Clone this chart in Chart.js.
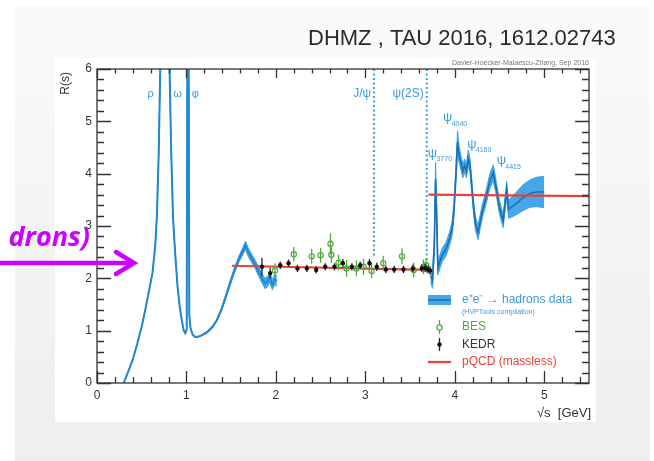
<!DOCTYPE html>
<html>
<head>
<meta charset="utf-8">
<script src="https://cdn.jsdelivr.net/npm/chart.js@4"></script>
<style>
html,body{margin:0;padding:0;background:#fff;}
canvas{display:block;}
</style>
</head>
<body>
<canvas id="c" width="654" height="461"></canvas>
<script>
// R(s) = sigma(e+e- -> hadrons) / sigma(e+e- -> mu+mu-)
// Light-quark region: threshold, rho/omega, phi, up to 2 GeV
const lowE = [0.298, 0.35, 0.40, 0.45, 0.50, 0.54, 0.58, 0.62, 0.65, 0.67, 0.69, 0.707, 0.73, 0.76, 0.778, 0.784, 0.79, 0.80, 0.811,
  0.83, 0.85, 0.875, 0.90, 0.925, 0.95, 0.97, 0.987, 1.003, 1.010, 1.017, 1.024, 1.032, 1.045, 1.07, 1.10, 1.12, 1.17, 1.23,
  1.29, 1.34, 1.39, 1.44, 1.49, 1.54, 1.59, 1.63, 1.66, 1.69, 1.73, 1.77, 1.81, 1.85, 1.88, 1.91, 1.93, 1.96, 1.99, 2.01];
const lowR = [0.0, 0.22, 0.45, 0.75, 1.08, 1.4, 1.75, 2.1, 2.6, 3.2, 4.4, 6.0, 8.3, 9.6, 9.8, 14.0, 8.5, 6.8, 6.0,
  4.4, 3.15, 2.45, 1.85, 1.45, 1.18, 1.0, 0.95, 1.02, 6.5, 40.0, 6.5, 1.3, 1.05, 0.92, 0.88, 0.88, 0.91, 0.97,
  1.07, 1.2, 1.4, 1.65, 1.92, 2.17, 2.38, 2.52, 2.63, 2.5, 2.38, 2.26, 2.12, 1.98, 1.9, 1.95, 2.02, 1.88, 1.98, 1.95];
const lowErr = [0.01, 0.01, 0.01, 0.01, 0.01, 0.01, 0.01, 0.01, 0.01, 0.01, 0.02, 0.02, 0.03, 0.03, 0.03, 0.05, 0.03, 0.03, 0.02,
  0.02, 0.02, 0.01, 0.01, 0.01, 0.01, 0.01, 0.01, 0.01, 0.05, 0.1, 0.05, 0.02, 0.01, 0.01, 0.01, 0.01, 0.01, 0.02,
  0.02, 0.02, 0.03, 0.04, 0.05, 0.05, 0.06, 0.07, 0.08, 0.08, 0.08, 0.08, 0.09, 0.09, 0.1, 0.1, 0.1, 0.1, 0.1, 0.1];

// Charm region above the psi(2S)
const highE = [3.73, 3.75, 3.77, 3.785, 3.80, 3.81, 3.83, 3.86, 3.90, 3.94, 3.97, 3.99, 4.01, 4.03, 4.05, 4.07, 4.09, 4.11,
  4.13, 4.15, 4.17, 4.19, 4.21, 4.23, 4.26, 4.28, 4.31, 4.35, 4.39, 4.43, 4.46, 4.50, 4.54, 4.58, 4.60, 4.65, 4.70,
  4.77, 4.84, 4.91, 5.0];
const highR = [2.05, 1.95, 2.6, 3.9, 3.0, 2.2, 2.3, 2.45, 2.55, 2.75, 2.95, 3.3, 3.9, 4.6, 4.35, 4.2, 4.05, 4.15,
  4.05, 4.3, 4.15, 3.75, 3.35, 3.05, 2.88, 3.05, 3.3, 3.55, 3.85, 4.02, 3.75, 3.35, 3.1, 3.7, 3.32, 3.38, 3.45,
  3.55, 3.62, 3.65, 3.65];
const highErr = [0.12, 0.14, 0.18, 0.32, 0.22, 0.14, 0.13, 0.13, 0.13, 0.13, 0.13, 0.14, 0.15, 0.22, 0.15, 0.13, 0.13, 0.13,
  0.13, 0.15, 0.13, 0.13, 0.13, 0.13, 0.14, 0.13, 0.13, 0.13, 0.14, 0.15, 0.13, 0.13, 0.13, 0.15, 0.17, 0.2, 0.22,
  0.25, 0.26, 0.28, 0.3];

// BES inclusive measurements
const besE = [1.99, 2.20, 2.40, 2.50, 2.61, 2.62, 2.70, 2.79, 2.90, 2.98, 3.07, 3.20, 3.41, 3.54, 3.65, 3.68];
const besR = [2.15, 2.46, 2.42, 2.44, 2.66, 2.45, 2.30, 2.19, 2.19, 2.22, 2.14, 2.29, 2.42, 2.16, 2.22, 2.25];
const besErr = [0.14, 0.14, 0.14, 0.14, 0.2, 0.15, 0.15, 0.16, 0.15, 0.15, 0.14, 0.14, 0.15, 0.14, 0.14, 0.14];

// KEDR inclusive measurements
const kedrE = [1.844, 1.936, 2.048, 2.141, 2.241, 2.346, 2.45, 2.551, 2.655, 2.749, 2.849, 2.942, 3.046, 3.128,
  3.229, 3.322, 3.426, 3.531, 3.631, 3.668, 3.70, 3.724];
const kedrR = [2.22, 2.10, 2.25, 2.29, 2.19, 2.19, 2.16, 2.22, 2.22, 2.29, 2.22, 2.25, 2.29, 2.22,
  2.17, 2.17, 2.17, 2.19, 2.19, 2.20, 2.17, 2.15];
const kedrErr = [0.17, 0.10, 0.07, 0.07, 0.07, 0.07, 0.07, 0.07, 0.07, 0.08, 0.07, 0.07, 0.08, 0.08,
  0.07, 0.07, 0.07, 0.07, 0.07, 0.08, 0.08, 0.08];

// Massless pQCD prediction (uds below charm threshold, udsc above)
const pqcdE = [1.508, 3.705, null, 3.705, 5.5];
const pqcdR = [2.24, 2.16, null, 3.60, 3.57];

// Narrow charmonium states shown as dotted markers
const narrowNames = ['J/ψ', 'ψ(2S)'];
const narrowMass = [3.097, 3.686];
const narrowLow = [2.42, 2.3];

// Axis ticks
const xTickValues = [0, 1, 2, 3, 4, 5];
const yTickValues = [0, 1, 2, 3, 4, 5, 6];

const BLUE_LINE = '#1a70b5';
const BLUE_BAND = 'rgba(52,160,230,0.92)';
const BLUE_TEXT = '#3a9bdc';
const GREEN = '#52aa3f';
const RED = '#e8423a';
const FONT = '"Liberation Sans", Arial, sans-serif';

const pts = (xs, ys) => xs.map((x, i) => ({ x: x, y: ys[i] }));
const shifted = (xs, ys, es, s) => xs.map((x, i) => ({ x: x, y: ys[i] + s * es[i] }));
function errorSegments(xs, ys, es) {
  const out = [];
  xs.forEach((x, i) => {
    out.push({ x: x, y: ys[i] - es[i] }, { x: x, y: ys[i] + es[i] }, { x: x, y: null });
  });
  return out;
}

const lineBase = { pointRadius: 0, tension: 0, fill: false, spanGaps: false };

const datasets = [
  // 0,1: low band
  Object.assign({}, lineBase, { label: 'lowUp', data: shifted(lowE, lowR, lowErr, 1), borderColor: BLUE_BAND, borderWidth: 1, order: 9 }),
  Object.assign({}, lineBase, { label: 'lowDn', data: shifted(lowE, lowR, lowErr, -1), borderColor: BLUE_BAND, borderWidth: 1, backgroundColor: BLUE_BAND, fill: '-1', order: 9 }),
  // 2,3: high band
  Object.assign({}, lineBase, { label: 'highUp', data: shifted(highE, highR, highErr, 1), borderColor: BLUE_BAND, borderWidth: 1, order: 9 }),
  Object.assign({}, lineBase, { label: 'highDn', data: shifted(highE, highR, highErr, -1), borderColor: BLUE_BAND, borderWidth: 1, backgroundColor: BLUE_BAND, fill: '-1', order: 9 }),
  // central values
  Object.assign({}, lineBase, { label: 'low', data: pts(lowE, lowR), borderColor: '#2488cf', borderWidth: 2, order: 8 }),
  Object.assign({}, lineBase, { label: 'high', data: pts(highE, highR), borderColor: BLUE_LINE, borderWidth: 1.6, order: 8 }),
  // narrow resonance markers
  ...narrowMass.map((m, i) => Object.assign({}, lineBase, {
    label: narrowNames[i], data: [{ x: m, y: 6 }, { x: m, y: narrowLow[i] }],
    borderColor: '#3d9fe2', borderWidth: 2, borderDash: [2, 2.5], order: 7
  })),
  // pQCD
  Object.assign({}, lineBase, { label: 'pQCD', data: pts(pqcdE, pqcdR), borderColor: RED, borderWidth: 2.2, order: 5 }),
  // BES
  Object.assign({}, lineBase, { label: 'besErr', data: errorSegments(besE, besR, besErr), borderColor: GREEN, borderWidth: 1.3, order: 4 }),
  { type: 'scatter', label: 'BES', data: pts(besE, besR), pointRadius: 2.6, pointBorderWidth: 1.2,
    pointBackgroundColor: 'rgba(255,255,255,0)', pointBorderColor: GREEN, showLine: false, order: 3 },
  // KEDR
  Object.assign({}, lineBase, { label: 'kedrErr', data: errorSegments(kedrE, kedrR, kedrErr), borderColor: '#222', borderWidth: 1.3, order: 2 }),
  { type: 'scatter', label: 'KEDR', data: pts(kedrE, kedrR), pointRadius: 2.2, pointBorderWidth: 0,
    pointBackgroundColor: '#111', showLine: false, order: 1 }
];

// Slide background and white figure panel
const pagePlugin = {
  id: 'page',
  beforeDraw(chart) {
    const ctx = chart.ctx;
    ctx.save();
    ctx.fillStyle = '#ffffff';
    ctx.fillRect(0, 0, 654, 461);
    const g = ctx.createLinearGradient(0, 6, 0, 461);
    g.addColorStop(0, '#fafafa');
    g.addColorStop(1, '#eeeeee');
    ctx.fillStyle = g;
    ctx.fillRect(15, 6, 635, 455);
    ctx.fillStyle = '#ffffff';
    ctx.fillRect(55, 58, 541, 364);
    // title
    ctx.fillStyle = '#2a2a2a';
    ctx.font = '22px ' + FONT;
    ctx.textBaseline = 'alphabetic';
    ctx.textAlign = 'left';
    ctx.fillText('DHMZ , TAU 2016, 1612.02743', 308, 45);
    ctx.restore();
  }
};

// Frame with inward ticks on all four sides, axis titles, labels, legend
const framePlugin = {
  id: 'frame',
  afterDraw(chart) {
    const ctx = chart.ctx;
    const a = chart.chartArea;
    const xs = chart.scales.x, ys = chart.scales.y;
    ctx.save();
    ctx.strokeStyle = '#333';
    ctx.lineWidth = 1.3;
    ctx.strokeRect(a.left, a.top, a.right - a.left, a.bottom - a.top);
    ctx.beginPath();
    for (let i = 0; i <= 27; i++) {
      const v = i * 0.2;
      const px = Math.round(xs.getPixelForValue(v)) + 0.5;
      const major = Math.abs(v - Math.round(v)) < 1e-6;
      ctx.moveTo(px, a.bottom); ctx.lineTo(px, a.bottom - (major ? 12 : 6));
      ctx.moveTo(px, a.top); ctx.lineTo(px, a.top + (major ? 9 : 4.5));
    }
    for (let i = 0; i <= 30; i++) {
      const v = i * 0.2;
      const py = Math.round(ys.getPixelForValue(v)) + 0.5;
      const major = Math.abs(v - Math.round(v)) < 1e-6;
      ctx.moveTo(a.left, py); ctx.lineTo(a.left + (major ? 14 : 7), py);
      ctx.moveTo(a.right, py); ctx.lineTo(a.right - (major ? 14 : 7), py);
    }
    ctx.stroke();

    // axis titles
    ctx.fillStyle = '#333';
    ctx.font = '13px ' + FONT;
    ctx.textAlign = 'right';
    ctx.textBaseline = 'middle';
    ctx.fillText('√s  [GeV]', a.right + 2, 413);
    ctx.save();
    ctx.translate(66, a.top + 3);
    ctx.rotate(-Math.PI / 2);
    ctx.textAlign = 'right';
    ctx.font = '12px ' + FONT;
    ctx.fillText('R(s)', 0, 0);
    ctx.restore();

    // credit line
    ctx.fillStyle = '#777';
    ctx.font = '7px ' + FONT;
    ctx.textAlign = 'right';
    ctx.textBaseline = 'alphabetic';
    ctx.fillText('Davier-Hoecker-Malaescu-Zhang, Sep 2016', a.right, 65);

    // resonance labels
    ctx.fillStyle = BLUE_TEXT;
    ctx.textBaseline = 'middle';
    ctx.textAlign = 'center';
    ctx.font = '11px ' + FONT;
    const ly = ys.getPixelForValue(5.53);
    ctx.fillText('ρ', xs.getPixelForValue(0.6), ly);
    ctx.fillText('ω', xs.getPixelForValue(0.9), ly);
    ctx.fillText('φ', xs.getPixelForValue(1.1), ly);
    ctx.textAlign = 'right';
    ctx.font = '12px ' + FONT;
    narrowMass.forEach((m, i) => ctx.fillText(narrowNames[i], xs.getPixelForValue(m) - 3, ly));

    const psiLabels = [['3770', 3.75, 4.39], ['4040', 3.92, 5.07], ['4160', 4.19, 4.56], ['4415', 4.52, 4.25]];
    psiLabels.forEach(([sub, e, r]) => {
      const px = xs.getPixelForValue(e), py = ys.getPixelForValue(r);
      ctx.textAlign = 'center';
      ctx.font = '13px ' + FONT;
      ctx.fillText('ψ', px, py);
      ctx.textAlign = 'left';
      ctx.font = '7px ' + FONT;
      ctx.fillText(sub, px + 4, py + 6);
    });

    // legend
    ctx.fillStyle = BLUE_BAND;
    ctx.fillRect(428, 295, 23, 10);
    ctx.strokeStyle = BLUE_LINE;
    ctx.lineWidth = 1.5;
    ctx.beginPath(); ctx.moveTo(428, 300); ctx.lineTo(451, 300); ctx.stroke();
    ctx.textAlign = 'left';
    ctx.textBaseline = 'middle';
    ctx.font = '12px ' + FONT;
    ctx.fillStyle = BLUE_TEXT;
    ctx.fillText('e⁺e⁻ → hadrons data', 462, 300);
    ctx.font = '7px ' + FONT;
    ctx.fillText('(HVPTools compilation)', 462, 312);

    ctx.strokeStyle = GREEN; ctx.lineWidth = 1.3;
    ctx.beginPath(); ctx.moveTo(439.5, 320); ctx.lineTo(439.5, 334); ctx.stroke();
    ctx.fillStyle = '#fff';
    ctx.beginPath(); ctx.arc(439.5, 327.5, 2.6, 0, Math.PI * 2); ctx.fill(); ctx.stroke();
    ctx.fillStyle = GREEN;
    ctx.font = '12px ' + FONT;
    ctx.fillText('BES', 462, 327);

    ctx.strokeStyle = '#222';
    ctx.beginPath(); ctx.moveTo(439.5, 338); ctx.lineTo(439.5, 351); ctx.stroke();
    ctx.fillStyle = '#111';
    ctx.beginPath(); ctx.arc(439.5, 344.5, 2.2, 0, Math.PI * 2); ctx.fill();
    ctx.fillStyle = '#333';
    ctx.fillText('KEDR', 462, 345);

    ctx.strokeStyle = RED; ctx.lineWidth = 2.2;
    ctx.beginPath(); ctx.moveTo(428, 362); ctx.lineTo(451, 362); ctx.stroke();
    ctx.fillStyle = RED;
    ctx.fillText('pQCD (massless)', 462, 362);

    // slide annotation: arrow pointing at the low-energy R
    ctx.fillStyle = '#cc00ff';
    ctx.strokeStyle = '#cc00ff';
    ctx.font = 'italic bold 27px "Open Sans", "DejaVu Sans", sans-serif';
    ctx.textAlign = 'right';
    ctx.textBaseline = 'alphabetic';
    ctx.fillText('drons)', 90, 246);
    ctx.lineWidth = 4.5;
    ctx.lineCap = 'round';
    ctx.beginPath(); ctx.moveTo(-5, 263); ctx.lineTo(133, 263); ctx.stroke();
    ctx.beginPath(); ctx.moveTo(116, 252); ctx.lineTo(134, 263); ctx.lineTo(116, 274); ctx.stroke();
    ctx.restore();
  }
};

const tickFont = { family: FONT, size: 12 };

new Chart(document.getElementById('c'), {
  type: 'line',
  data: { datasets: datasets },
  options: {
    responsive: false,
    animation: false,
    devicePixelRatio: 1,
    layout: { padding: { left: 57, right: 65, top: 69, bottom: 53 } },
    plugins: { legend: { display: false }, tooltip: { enabled: false } },
    scales: {
      x: {
        type: 'linear', min: 0, max: 5.5,
        afterBuildTicks: s => { s.ticks = xTickValues.map(v => ({ value: v })); },
        afterFit: s => { s.height = 25; },
        grid: { display: false, drawTicks: false },
        border: { display: false },
        ticks: { padding: 5, font: tickFont, color: '#333', maxRotation: 0, autoSkip: false }
      },
      y: {
        type: 'linear', min: 0, max: 6,
        afterBuildTicks: s => { s.ticks = yTickValues.map(v => ({ value: v })); },
        afterFit: s => { s.width = 40; },
        grid: { display: false, drawTicks: false },
        border: { display: false },
        ticks: { padding: 5, font: tickFont, color: '#333', autoSkip: false }
      }
    }
  },
  plugins: [pagePlugin, framePlugin]
});
</script>
</body>
</html>
